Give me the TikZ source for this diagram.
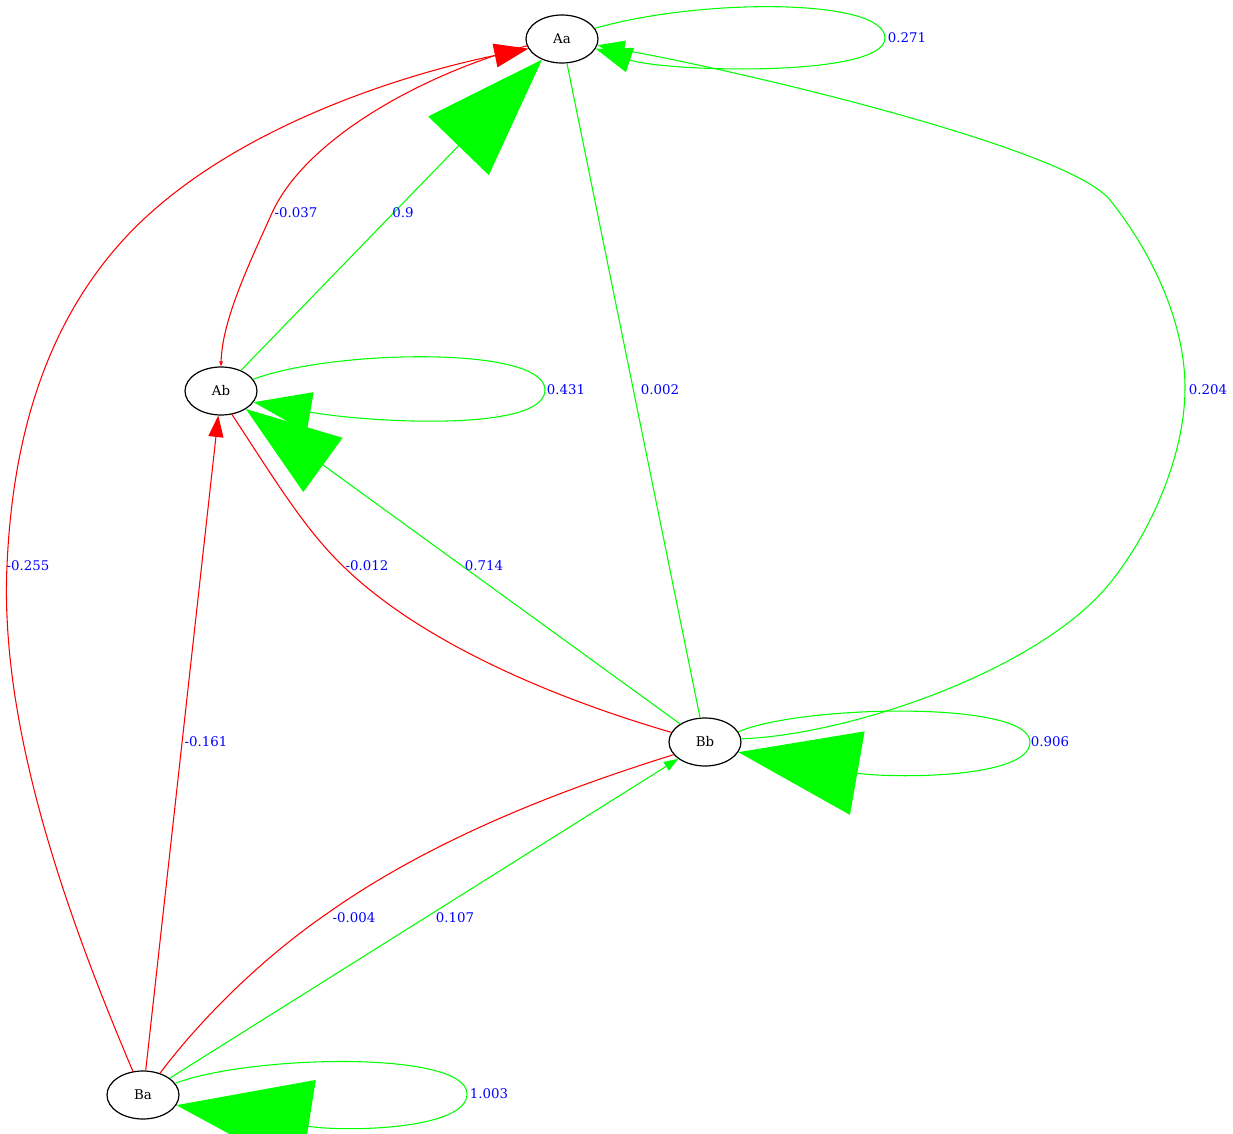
\documentclass[tikz,border=0pt]{standalone}
\usepackage{fontspec}
\setmainfont{DejaVu Serif}
\usetikzlibrary{arrows.meta,shapes.geometric}
\definecolor{eg}{RGB}{0,255,0}
\definecolor{er}{RGB}{255,0,0}
\begin{document}
\begin{tikzpicture}[x=0.75pt,y=-0.75pt,
  vtx/.style={draw=black, line width=0.9pt, ellipse, minimum width=54pt, minimum height=36pt, inner sep=0pt, font=\fontsize{10}{12}\selectfont},
  lbl/.style={text=blue, inner sep=0pt, font=\fontsize{10}{12}\selectfont},
  pe/.style={draw=eg, line width=0.8pt},
  ne/.style={draw=er, line width=0.8pt}]
\useasboundingbox (0,0) rectangle (1233,1134);
\node[vtx] (Aa) at (562,39) {Aa};
\node[vtx] (Ab) at (221,391) {Ab};
\node[vtx] (Bb) at (705,742) {Bb};
\node[vtx] (Ba) at (143,1095) {Ba};
% Aa self loop
\draw[pe,-{Triangle[length=27.1pt,width=19pt]}] (Aa.18) .. controls (700,-2) and (885,-2) .. (885,38) .. controls (885,78) and (666,72) .. (Aa.-16);
% Ab -> Aa
\draw[pe,-{Triangle[length=90pt,width=63pt]}] (Ab) -- (Aa);
% Aa -> Ab
\draw[ne,-{Triangle[length=3.7pt,width=2.6pt]}] (Aa.191) .. controls (420,75) and (305,140) .. (272,213) .. controls (250,262) and (222,320) .. (Ab.north);
% Ba -> Aa
\draw[ne,-{Triangle[length=25.5pt,width=17.9pt]}] (Ba.113) .. controls (60,900) and (0,720) .. (7,566) .. controls (12,450) and (40,330) .. (125,238) .. controls (225,130) and (400,75) .. (Aa.196);
% Bb -> Aa
\draw[pe] (Bb) -- (Aa);
\draw[pe,-{Triangle[length=20.4pt,width=14.3pt]}] (Bb.5) .. controls (850,735) and (1040,670) .. (1110,583) .. controls (1155,527) and (1185,450) .. (1185,388) .. controls (1185,320) and (1150,250) .. (1110,200) .. controls (1070,150) and (760,75) .. (Aa.-10);
% Ab self loop
\draw[pe,-{Triangle[length=43.1pt,width=30.2pt]}] (Ab.20) .. controls (330,350) and (545,345) .. (545,390) .. controls (545,432) and (372,423) .. (Ab.-19);
% Bb -> Ab
\draw[pe,-{Triangle[length=71.4pt,width=50pt]}] (Bb) -- (Ab);
% Ab -- Bb
\draw[ne] (Ab.-65) .. controls (275,480) and (305,530) .. (345,568) .. controls (425,645) and (560,700) .. (Bb.164);
% Bb self loop
\draw[pe,-{Triangle[length=90.6pt,width=63.4pt]}] (Bb.17) .. controls (800,705) and (1030,700) .. (1030,742) .. controls (1030,780) and (885,778) .. (Bb.-17);
% Ba self loop
\draw[pe,-{Triangle[length=100.3pt,width=70.2pt]}] (Ba.20) .. controls (250,1055) and (467,1050) .. (467,1094) .. controls (467,1130) and (344,1132) .. (Ba.-17);
% Ba -> Ab
\draw[ne,-{Triangle[length=16.1pt,width=11.3pt]}] (Ba) -- (Ab);
% Ba -> Bb
\draw[pe,-{Triangle[length=10.7pt,width=7.5pt]}] (Ba) -- (Bb);
\draw[ne] (Ba.52) .. controls (200,1020) and (260,960) .. (325,915) .. controls (430,840) and (560,790) .. (Bb.-158);
% labels
\node[lbl] (l1) at (907,38) {0.271};
\node[lbl] (l2) at (296,213) {-0.037};
\node[lbl] (l3) at (403,213) {0.9};
\node[lbl] (l4) at (566,390) {0.431};
\node[lbl] (l5) at (660,390) {0.002};
\node[lbl] (l6) at (1208,390) {0.204};
\node[lbl] (l7) at (28,566) {-0.255};
\node[lbl] (l8) at (367,566) {-0.012};
\node[lbl] (l9) at (484,566) {0.714};
\node[lbl] (l10) at (206,742) {-0.161};
\node[lbl] (l11) at (1050,742) {0.906};
\node[lbl] (l12) at (354,918) {-0.004};
\node[lbl] (l13) at (455,918) {0.107};
\node[lbl] (l14) at (489,1094) {1.003};
\end{tikzpicture}
\end{document}
